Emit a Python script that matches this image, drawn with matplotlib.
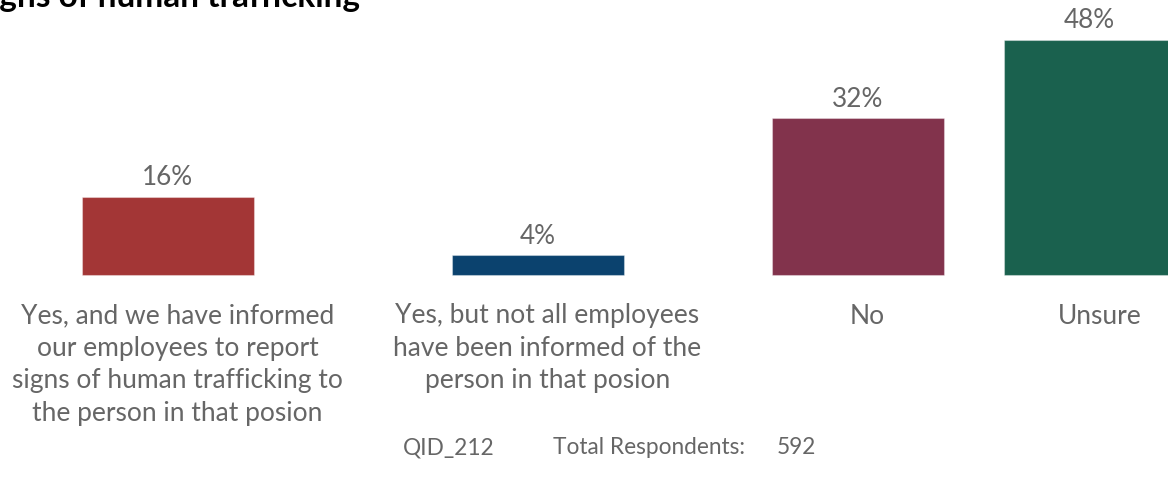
import matplotlib
matplotlib.use("Agg")
import matplotlib.pyplot as plt

# --- data ---
categories = [
    "Yes, and we have informed\nour employees to report\nsigns of human trafficking to\nthe person in that posion",
    "Yes, but not all employees\nhave been informed of the\nperson in that posion",
    "No",
    "Unsure",
]
values = [16, 4, 32, 48]
colors = ["#A33636", "#0B426E", "#82334C", "#1A614E"]
title = "signs of human trafficking"
qid = "QID_212"
respondents_label = "Total Respondents:"
respondents = 592

# --- layout (pixel units, figure is 1168 x 479 at 100 dpi) ---
W, H = 1168, 479
bar_x = [167.5, 537.5, 857.5, 1089.5]
bar_w = 172
baseline_px = 275
px_per_pct = 4.9
gray = "#666666"
plt.rcParams['font.family'] = ['Lato', 'DejaVu Sans']

fig = plt.figure(figsize=(W / 100, H / 100), dpi=100)
ax = fig.add_axes([0, 0, 1, 1])
ax.set_xlim(0, W)
ax.set_ylim(-(H - baseline_px) / px_per_pct, baseline_px / px_per_pct)
ax.axis("off")

bars = ax.bar(bar_x, values, width=bar_w, color=colors,
              edgecolor=(1, 1, 1, 0.35), linewidth=0.8)

for x, v in zip(bar_x, values):
    ax.annotate(f"{v}%", (x, v), xytext=(0, 19 * 0.72), textcoords="offset points",
                ha="center", va="center", fontsize=18.8, color=gray)

for x, lab in zip(bar_x, categories):
    ax.annotate(lab, (x + 10, 0), xytext=(0, -28.5 * 0.72), textcoords="offset points",
                ha="center", va="top", fontsize=19, color=gray, linespacing=1.37)

# title, mostly cut off at the top edge
fig.text(360 / W, 1 - 7 / H, title, ha="right", va="baseline",
         fontsize=24, fontweight="bold", color="black")

# footer
fs = 16.3
fig.text(403 / W, 1 - 448 / H, qid, ha="left", va="center", fontsize=fs, color=gray)
fig.text(553 / W, 1 - 448 / H, respondents_label, ha="left", va="center", fontsize=fs, color=gray)
fig.text(777 / W, 1 - 448 / H, str(respondents), ha="left", va="center", fontsize=fs, color=gray)

fig.savefig("out.png", dpi=100)
